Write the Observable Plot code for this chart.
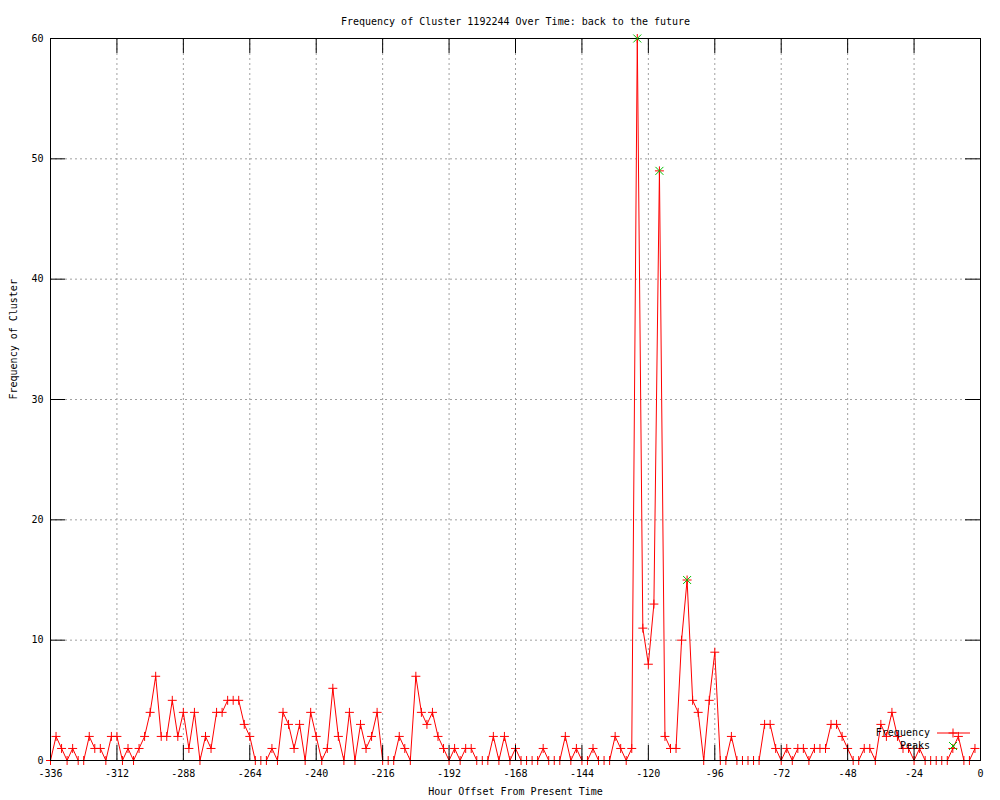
<!DOCTYPE html>
<html>
<head>
<meta charset="utf-8">
<script src="https://cdn.jsdelivr.net/npm/d3@7"></script>
<script src="https://cdn.jsdelivr.net/npm/@observablehq/plot@0.6"></script>
<style>
  html, body { margin: 0; padding: 0; background: #ffffff; }
  #chart svg { display: block; }
</style>
</head>
<body>
<div id="chart"></div>
<script>
const titleText = "Frequency of Cluster 1192244 Over Time: back to the future";
const xLabel = "Hour Offset From Present Time";
const yLabel = "Frequency of Cluster";

const hours = [
  -336,-334,-332,-330,-328,-326,-324,-322,-320,-318,
  -316,-314,-312,-310,-308,-306,-304,-302,-300,-298,
  -296,-294,-292,-290,-288,-286,-284,-282,-280,-278,
  -276,-274,-272,-270,-268,-266,-264,-262,-260,-258,
  -256,-254,-252,-250,-248,-246,-244,-242,-240,-238,
  -236,-234,-232,-230,-228,-226,-224,-222,-220,-218,
  -216,-214,-212,-210,-208,-206,-204,-202,-200,-198,
  -196,-194,-192,-190,-188,-186,-184,-182,-180,-178,
  -176,-174,-172,-170,-168,-166,-164,-162,-160,-158,
  -156,-154,-152,-150,-148,-146,-144,-142,-140,-138,
  -136,-134,-132,-130,-128,-126,-124,-122,-120,-118,
  -116,-114,-112,-110,-108,-106,-104,-102,-100,-98,
  -96,-94,-92,-90,-88,-86,-84,-82,-80,-78,
  -76,-74,-72,-70,-68,-66,-64,-62,-60,-58,
  -56,-54,-52,-50,-48,-46,-44,-42,-40,-38,
  -36,-34,-32,-30,-28,-26,-24,-22,-20,-18,
  -16,-14,-12,-10,-8,-6,-4,-2
];

const counts = [
  0,2,1,0,1,0,0,2,1,1,
  0,2,2,0,1,0,1,2,4,7,
  2,2,5,2,4,1,4,0,2,1,
  4,4,5,5,5,3,2,0,0,0,
  1,0,4,3,1,3,0,4,2,0,
  1,6,2,0,4,0,3,1,2,4,
  0,0,0,2,1,0,7,4,3,4,
  2,1,0,1,0,1,1,0,0,0,
  2,0,2,0,1,0,0,0,0,1,
  0,0,0,2,0,1,0,0,1,0,
  0,0,2,1,0,1,60,11,8,13,
  49,2,1,1,10,15,5,4,0,5,
  9,0,0,2,0,0,0,0,0,3,
  3,1,0,1,0,1,1,0,1,1,
  1,3,3,2,1,0,0,1,1,0,
  3,2,4,2,1,1,0,1,0,0,
  0,0,0,1,2,0,0,1
];

const peakHours = [-124, -116, -106];
const peakCounts = [60, 49, 15];

const xTicks = [-336,-312,-288,-264,-240,-216,-192,-168,-144,-120,-96,-72,-48,-24,0];
const yTicks = [0,10,20,30,40,50,60];

const seriesNames = ["Frequency", "Peaks"];
const freqColor = "#ff0000";
const peakColor = "#00c000";

const freqData = hours.map((h, i) => ({hour: h, count: counts[i]}));
const peakData = peakHours.map((h, i) => ({hour: h, count: peakCounts[i]}));

const W = 1000, H = 800;
const mL = 50, mR = 20, mT = 38, mB = 40;
const frameW = W - mL - mR, frameH = H - mT - mB;
const tickLen = 15;
const font = "'DejaVu Sans Mono', 'Liberation Mono', monospace";

const chart = Plot.plot({
  width: W,
  height: H,
  marginLeft: mL,
  marginRight: mR,
  marginTop: mT,
  marginBottom: mB,
  style: {fontFamily: font, fontSize: "10px", background: "#ffffff", color: "#000000"},
  x: {domain: [-336, 0]},
  y: {domain: [0, 60]},
  marks: [
    Plot.gridX(xTicks.slice(1, -1), {stroke: "#a0a0a0", strokeOpacity: 1, strokeDasharray: "2,3"}),
    Plot.gridY(yTicks.slice(1, -1), {stroke: "#a0a0a0", strokeOpacity: 1, strokeDasharray: "2,3"}),
    Plot.axisX(xTicks, {tickSize: 0, tickPadding: 9, tickFormat: d => String(d), label: null, fill: "#000"}),
    Plot.axisY(yTicks, {tickSize: 0, tickPadding: 7, tickFormat: d => String(d), label: null, fill: "#000"}),
    Plot.line(freqData, {x: "hour", y: "count", stroke: freqColor, strokeWidth: 1}),
    Plot.dot(freqData, {x: "hour", y: "count", symbol: "plus", r: 3, stroke: freqColor, strokeWidth: 1}),
    Plot.frame({stroke: "#000000", strokeWidth: 1}),
    Plot.tickX(xTicks, {x: d => d, insetTop: frameH - tickLen, stroke: "#000"}),
    Plot.tickX(xTicks, {x: d => d, insetBottom: frameH - tickLen, stroke: "#000"}),
    Plot.tickY(yTicks, {y: d => d, insetRight: frameW - tickLen, stroke: "#000"}),
    Plot.tickY(yTicks, {y: d => d, insetLeft: frameW - tickLen, stroke: "#000"}),
    Plot.dot(peakData, {x: "hour", y: "count", symbol: "times", r: 3.7, stroke: peakColor, strokeWidth: 1}),
    Plot.text([titleText], {frameAnchor: "top", dy: -21, text: d => d, fill: "#000"}),
    Plot.text([xLabel], {frameAnchor: "bottom", dy: 34, text: d => d, fill: "#000"}),
    Plot.text([yLabel], {frameAnchor: "left", dx: -37, rotate: -90, text: d => d, fill: "#000"})
  ]
});

// Legend (gnuplot style, bottom-right inside the frame)
const svg = d3.select(chart);
const leg = svg.append("g").attr("font-family", font).attr("font-size", 10);
const textRight = W - mR - 50;
const rowsY = [H - mB - 27, H - mB - 14];
const sampleX1 = textRight + 7, sampleX2 = textRight + 40, symX = textRight + 23;

leg.append("text").attr("x", textRight).attr("y", rowsY[0]).attr("dy", "0.32em")
  .attr("text-anchor", "end").attr("fill", "#000").text(seriesNames[0]);
leg.append("line").attr("x1", sampleX1).attr("x2", sampleX2).attr("y1", rowsY[0]).attr("y2", rowsY[0])
  .attr("stroke", freqColor).attr("stroke-width", 1);
leg.append("path").attr("transform", `translate(${symX},${rowsY[0]})`)
  .attr("d", d3.symbol(d3.symbolPlus, 3 * 3 * Math.PI)()).attr("fill", "none").attr("stroke", freqColor);

leg.append("text").attr("x", textRight).attr("y", rowsY[1]).attr("dy", "0.32em")
  .attr("text-anchor", "end").attr("fill", "#000").text(seriesNames[1]);
leg.append("path").attr("transform", `translate(${symX},${rowsY[1]})`)
  .attr("d", d3.symbol(d3.symbolTimes, 3.7 * 3.7 * Math.PI)()).attr("fill", "none").attr("stroke", peakColor);

document.getElementById("chart").appendChild(chart);
</script>
</body>
</html>
